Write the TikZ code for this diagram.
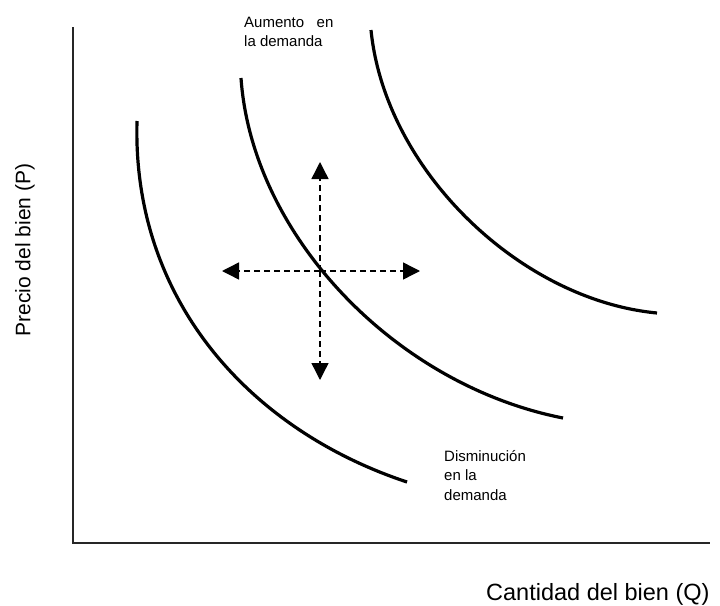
\documentclass[tikz,border=0pt]{standalone}
\usepackage{fontspec}
\setmainfont{Liberation Sans}
\usetikzlibrary{arrows.meta}

\begin{document}
\begin{tikzpicture} [x=1pt,y=-1pt,every node/.style={inner sep=0pt,align=left},
		axis/.style={line width=1.6pt,black!85},
		demand/.style={line width=3.2pt},
		shift arrow/.style={line width=1.4pt,dash pattern=on 6pt off 4pt,-{Triangle[length=17pt,width=17pt]}},
		axis label/.style={font=\fontsize{21}{25}\selectfont},
		curve label/.style={font=\fontsize{15}{18.5}\selectfont,anchor=north west}]
			\useasboundingbox (0,0) rectangle (720,605);
			% axes
			\coordinate (ytop) at (73,27);
			\coordinate (xend) at (710,543);
			\draw [axis] (ytop) |- (xend);
			\node [axis label,rotate=90] (plabel) at (25,250) {Precio del bien (P)};
			\node [axis label,font=\fontsize{23.5}{28}\selectfont,anchor=base west] (qlabel) at (486,600) {Cantidad del bien (Q)};
			% demand curves
			\coordinate (d1a) at (137,121);
			\coordinate (d1b) at (407,482);
			\coordinate (d2a) at (241,78);
			\coordinate (d2b) at (563,418);
			\coordinate (d3a) at (371,30);
			\coordinate (d3b) at (657,313);
			\draw [demand] (d1a) .. controls (132,300) and (250,430) .. (d1b);
			\draw [demand] (d2a) .. controls (252,235) and (395,385) .. (d2b);
			\draw [demand] (d3a) .. controls (385,170) and (520,300) .. (d3b);
			% shifts
			\coordinate (eq) at (320,271);
			\coordinate (up) at (320,162);
			\coordinate (down) at (320,380);
			\coordinate (left) at (222,271);
			\coordinate (right) at (420,271);
			\foreach \dir in {up,down,left,right}
				\draw [shift arrow] (eq) -- (\dir);
			% labels
			\node [curve label] (aumento) at (244,17) {Aumento\ \ \ en\\la demanda};
			\node [curve label,font=\fontsize{15}{19.5}\selectfont] (disminucion) at (444,450) {Disminución\\en la\\demanda};
		\end{tikzpicture}
\end{document}
